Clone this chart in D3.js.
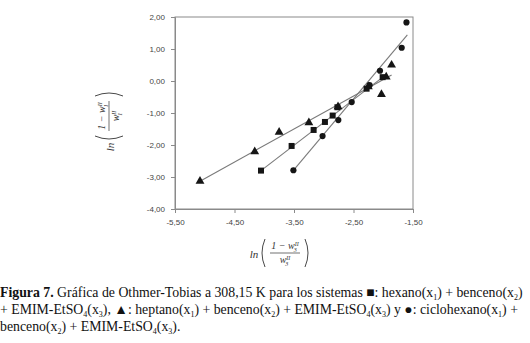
<!DOCTYPE html>
<html><head><meta charset="utf-8">
<script src="https://cdn.jsdelivr.net/npm/d3@7"></script>
<style>body{margin:0;background:#fff}svg{display:block}</style>
</head><body>
<svg id="c" width="530" height="343"></svg>
<script>
const xTicks = [-5.5, -4.5, -3.5, -2.5, -1.5];
const yTicks = [2, 1, 0, -1, -2, -3, -4];
// hexano (squares)
const hexX = [-4.055, -3.54, -3.17, -2.98, -2.85, -2.77, -2.28, -2.01];
const hexY = [-2.80, -2.03, -1.53, -1.28, -1.08, -0.82, -0.24, 0.12];
// heptano (triangles)
const hepX = [-5.08, -4.16, -3.75, -3.25, -2.76, -2.25, -2.03, -1.95, -1.86];
const hepY = [-3.13, -2.21, -1.60, -1.30, -0.80, -0.18, -0.42, 0.13, 0.50];
// ciclohexano (circles)
const cicX = [-3.51, -3.02, -2.755, -2.53, -2.23, -2.055, -1.69, -1.61];
const cicY = [-2.79, -1.72, -1.22, -0.66, -0.13, 0.32, 1.04, 1.83];
// fitted lines (endpoints)
const hexFit = [[-4.055, -2.80], [-1.98, 0.16]];
const hepFit = [[-5.08, -3.13], [-1.86, 0.19]];
const cicFit = [[-3.51, -2.79], [-1.595, 1.44]];

const svg = d3.select("#c");
const x = d3.scaleLinear().domain([-5.5, -1.5]).range([175, 413]);
const y = d3.scaleLinear().domain([-4, 2]).range([209, 17]);
const fmt = d => d.toFixed(2).replace(".", ",");
const axisCol = "#8a8a8a";

// frame
svg.append("rect").attr("x", 175).attr("y", 17).attr("width", 238).attr("height", 192)
  .attr("fill", "none").attr("stroke", axisCol).attr("stroke-width", 1);

const gx = svg.append("g").attr("transform", "translate(0,209)")
  .call(d3.axisBottom(x).tickValues(xTicks).tickFormat(fmt).tickSizeOuter(0).tickSize(4).tickPadding(6));
const gy = svg.append("g").attr("transform", "translate(175,0)")
  .call(d3.axisLeft(y).tickValues(yTicks).tickFormat(fmt).tickSizeOuter(0).tickSize(4).tickPadding(6));
[gx, gy].forEach(g => {
  g.select(".domain").attr("stroke", axisCol);
  g.selectAll(".tick line").attr("stroke", axisCol);
  g.selectAll(".tick text").attr("fill", "#444").style("font-family", "Liberation Sans, Arial, sans-serif").style("font-size", "8px");
});

// fit lines
const line = d3.line().x(d => x(d[0])).y(d => y(d[1]));
[hexFit, hepFit, cicFit].forEach(f => {
  svg.append("path").attr("d", line(f)).attr("fill", "none").attr("stroke", "#7a7a7a").attr("stroke-width", 1.1);
});

const mk = "#151515";
const sq = d3.symbol().type(d3.symbolSquare).size(36);
const tr = d3.symbol().type(d3.symbolTriangle).size(34);
const ci = d3.symbol().type(d3.symbolCircle).size(30);
svg.append("g").selectAll("path").data(hepX).join("path")
  .attr("d", tr).attr("transform", (d, i) => `translate(${x(d)},${y(hepY[i])})`).attr("fill", mk);
svg.append("g").selectAll("path").data(cicX).join("path")
  .attr("d", ci).attr("transform", (d, i) => `translate(${x(d)},${y(cicY[i])})`).attr("fill", mk);
svg.append("g").selectAll("path").data(hexX).join("path")
  .attr("d", sq).attr("transform", (d, i) => `translate(${x(d)},${y(hexY[i])})`).attr("fill", mk);

// axis titles
function title(g, sub) {
  const f = "Liberation Serif, Times New Roman, serif";
  const tc = "#333";
  g.append("text").attr("x", -31).attr("y", 5).attr("text-anchor", "middle")
    .style("font-family", f).style("font-style", "italic").style("font-size", "11px").attr("fill", tc).text("ln");
  const paren = (side) => {
    const px = side * 22;
    g.append("path").attr("d", `M${px - side * 2},-14 Q${px + side * 4},0 ${px - side * 2},14`)
      .attr("fill", "none").attr("stroke", tc).attr("stroke-width", 0.9);
  };
  paren(-1); paren(1);
  g.append("line").attr("x1", -15).attr("x2", 15).attr("y1", 0).attr("y2", 0).attr("stroke", tc).attr("stroke-width", 0.7);
  const num = g.append("text").attr("x", 0).attr("y", -4).attr("text-anchor", "middle")
    .style("font-family", f).style("font-style", "italic").style("font-size", "10px").attr("fill", tc);
  num.append("tspan").text("1 − w");
  num.append("tspan").attr("dy", -3).style("font-size", "6px").text("II");
  num.append("tspan").attr("dx", -5).attr("dy", 6).style("font-size", "6px").text(sub);
  const den = g.append("text").attr("x", 0).attr("y", 10).attr("text-anchor", "middle")
    .style("font-family", f).style("font-style", "italic").style("font-size", "10px").attr("fill", tc);
  den.append("tspan").text("w");
  den.append("tspan").attr("dy", -3).style("font-size", "6px").text("II");
  den.append("tspan").attr("dx", -5).attr("dy", 6).style("font-size", "6px").text(sub);
}
title(svg.append("g").attr("transform", "translate(285,253)"), "3");
title(svg.append("g").attr("transform", "translate(109,116) rotate(-90)"), "1");

// caption
const cf = "Liberation Serif, Times New Roman, serif";
const cap = svg.append("g").style("font-family", cf).style("font-size", "13.8px").attr("fill", "#111");
function capLine(yy, parts) {
  const t = cap.append("text").attr("x", 0).attr("y", yy);
  let shift = 0;
  parts.forEach(p => {
    let sp;
    if (typeof p === "string") sp = t.append("tspan").text(p);
    else if (p.b) sp = t.append("tspan").style("font-weight", "bold").text(p.b);
    else if (p.s) {
      sp = t.append("tspan").style("font-size", "8px").text(p.s);
      sp.attr("dy", 3 - shift); shift = 3; return;
    }
    if (shift) { sp.attr("dy", -shift); shift = 0; }
  });
}
capLine(297, [{b: "Figura 7."}, " Gráfica de Othmer-Tobias a 308,15 K para los sistemas ■: hexano(x", {s: "1"}, ") + benceno(x", {s: "2"}, ")"]);
capLine(314, ["+ EMIM-EtSO", {s: "4"}, "(x", {s: "3"}, "), ▲: heptano(x", {s: "1"}, ") + benceno(x", {s: "2"}, ") + EMIM-EtSO", {s: "4"}, "(x", {s: "3"}, ") y ●: ciclohexano(x", {s: "1"}, ") +"]);
capLine(331, ["benceno(x", {s: "2"}, ") + EMIM-EtSO", {s: "4"}, "(x", {s: "3"}, ")."]);
</script>
</body></html>
